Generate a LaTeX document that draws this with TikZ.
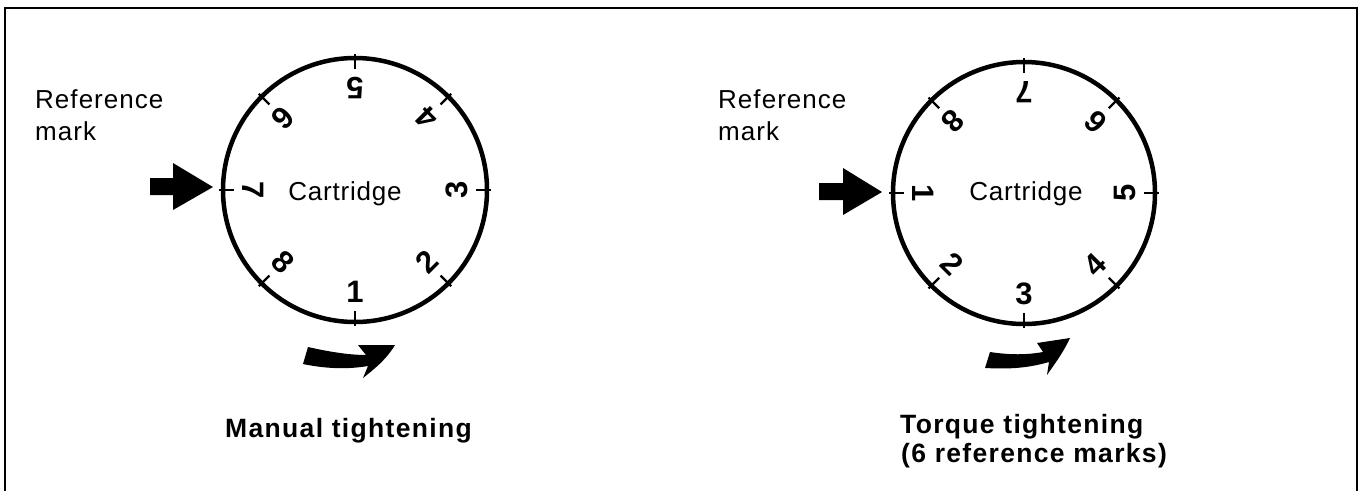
\documentclass[tikz,border=0pt]{standalone}
\usepackage{fontspec}
\setmainfont{Liberation Sans}
\usetikzlibrary{calc}
\begin{document}
\begin{tikzpicture}[x=1pt,y=-1pt,
  frame/.style={line width=2.8pt},
  ring/.style={line width=4.5pt},
  tickmark/.style={line width=2.2pt},
  num/.style={font=\fontsize{31}{31}\selectfont\bfseries, inner sep=0pt},
  lbl/.style={font=\fontsize{26}{31}\selectfont\addfontfeature{LetterSpace=4}, inner sep=0pt, anchor=base west},
  cart/.style={font=\fontsize{26}{31}\selectfont\addfontfeature{LetterSpace=3}, inner sep=0pt, anchor=base},
  title/.style={font=\fontsize{26.5}{31}\selectfont\bfseries\addfontfeature{LetterSpace=5}, inner sep=0pt, anchor=base west},
  blk/.style={fill=black, draw=none}]
\useasboundingbox (0,0) rectangle (1359,491);
\fill[white] (0,0) rectangle (1359,491);
% frame (open at bottom)
\draw[frame] (5,491) -- (5,8) -- (1357,8) -- (1357,491);

% ---------- left dial ----------
\coordinate (cl) at (355,190);
\draw[ring] (cl) circle[radius=132];
\foreach \k in {1,...,8}{
  \pgfmathsetmacro{\a}{270+(\k-1)*45}
  \draw[tickmark] ($(cl)+(-\a:121)$) -- ($(cl)+(-\a:136)$);
  \node[num, rotate=\a+90] (nl\k) at ($(cl)+(-\a:102)$) {\k};
}
\node[cart] (cartl) at (345,200) {Cartridge};
\node[lbl] (refl1) at (35,108) {Reference};
\node[lbl] (refl2) at (35,140) {mark};
\fill[blk] (150,178) -- (173,178) -- (173,163) -- (213,187) -- (173,210) -- (173,195) -- (150,195) -- cycle;
\fill[blk] (308,347) .. controls (330,352) and (350,355) .. (366,355) -- (358,345) -- (395,345)
  .. controls (386,360) and (373,370) .. (363,378) -- (368,366)
  .. controls (345,370) and (322,368) .. (303,364) -- cycle;
\node[title] (manual) at (225,437) {Manual tightening};

% ---------- right dial ----------
\coordinate (cr) at (1024,193);
\draw[ring] (cr) circle[radius=131];
\foreach \k in {1,...,8}{
  \pgfmathsetmacro{\a}{180+(\k-1)*45}
  \draw[tickmark] ($(cr)+(-\a:120)$) -- ($(cr)+(-\a:135)$);
  \node[num, rotate=\a+90] (nr\k) at ($(cr)+(-\a:101)$) {\k};
}
\node[cart] (cartr) at (1026,200) {Cartridge};
\node[lbl] (refr1) at (718,108) {Reference};
\node[lbl] (refr2) at (718,140) {mark};
\fill[blk] (819,183) -- (843,183) -- (843,168) -- (882,192) -- (843,215) -- (843,200) -- (819,200) -- cycle;
\fill[blk] (990,352) .. controls (1010,355) and (1026,355) .. (1043,352) -- (1037,343) -- (1070,338)
  .. controls (1062,355) and (1053,366) .. (1047,375) -- (1049,362)
  .. controls (1025,369) and (1005,369) .. (985,368) -- cycle;
\node[title] (torque1) at (900,433) {Torque tightening};
\node[title] (torque2) at (901,462) {(6 reference marks)};
\end{tikzpicture}
\end{document}
